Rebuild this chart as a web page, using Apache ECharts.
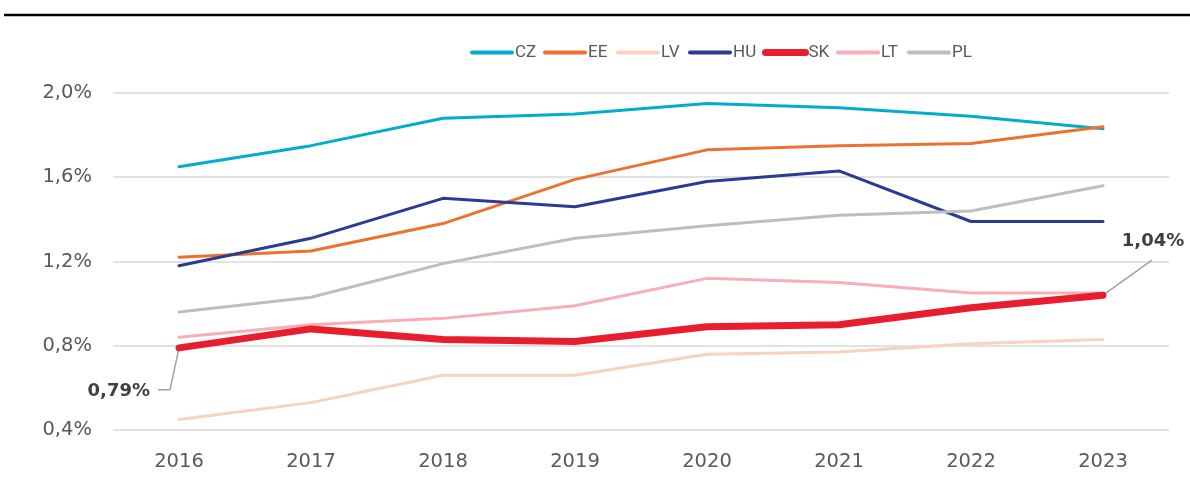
<!DOCTYPE html>
<html><head><meta charset="utf-8">
<script src="https://cdn.jsdelivr.net/npm/echarts@6/dist/echarts.min.js"></script>
<style>html,body{margin:0;padding:0;background:#fff}#c{width:1190px;height:482px}</style>
</head><body><div id="c"></div>
<script>
const years = ['2016','2017','2018','2019','2020','2021','2022','2023'];
const CZ = [1.65,1.75,1.88,1.90,1.95,1.93,1.89,1.83];
const EE = [1.22,1.25,1.38,1.59,1.73,1.75,1.76,1.84];
const LV = [0.45,0.53,0.66,0.66,0.76,0.77,0.81,0.83];
const HU = [1.18,1.31,1.50,1.46,1.58,1.63,1.39,1.39];
const SK = [0.79,0.88,0.83,0.82,0.89,0.90,0.98,1.04];
const LT = [0.84,0.90,0.93,0.99,1.12,1.10,1.05,1.05];
const PL = [0.96,1.03,1.19,1.31,1.37,1.42,1.44,1.56];
const names = ['CZ','EE','LV','HU','SK','LT','PL'];
const noteFirst = '0,79%';
const noteLast = '1,04%';

const font = '"DejaVu Sans", sans-serif';
const legFont = 'Roboto, "Liberation Sans", sans-serif';
const colors = {CZ:'#00AECB',EE:'#EC7232',LV:'#F8D2BE',HU:'#2B3A92',SK:'#E81E2E',LT:'#F7AEB6',PL:'#BEBEBE'};
const widths = {CZ:3,EE:3,LV:3,HU:3,SK:7,LT:3,PL:3};
const seriesData = {CZ,EE,LV,HU,SK,LT,PL};
const legLeft = [470,543,616,688,762,836,907];

const series = names.map(n=>({name:n, type:'line', data:seriesData[n], symbol:'none', z:n==='SK'?5:2,
  lineStyle:{color:colors[n], width:widths[n], cap:'round', join:'round'}, itemStyle:{color:colors[n]}}));
const legends = names.map((n,i)=>({left:legLeft[i], top:44, itemWidth:40, itemHeight:18, itemGap:0,
  padding:0, data:[n], itemStyle:{opacity:0},
  lineStyle:{width:n==='SK'?7:4, cap:'round'},
  textStyle:{fontSize:17, color:'#595959', fontFamily:legFont, padding:[0,0,0,-2]}}));

const chart = echarts.init(document.getElementById('c'), null, {renderer:'canvas'});
chart.setOption({
  animation:false,
  textStyle:{fontFamily:font},
  grid:{left:113, right:21, top:93, bottom:52, containLabel:false},
  legend:legends,
  xAxis:{type:'category', data:years, boundaryGap:true,
    axisLine:{show:false}, axisTick:{show:false},
    axisLabel:{fontSize:19.5, color:'#595959', margin:22, fontFamily:font}},
  yAxis:{type:'value', min:0.4, max:2.0, interval:0.4,
    axisLine:{show:false}, axisTick:{show:false},
    splitLine:{lineStyle:{color:'#D9D9D9', width:1.5}},
    axisLabel:{fontSize:19.5, color:'#595959', margin:21, fontFamily:font,
      formatter:v=>v.toFixed(1).replace('.',',')+'%'}},
  series
});
function drawNotes(){
  const p0 = chart.convertToPixel({xAxisIndex:0,yAxisIndex:0},[0,SK[0]]);
  const n = SK.length-1;
  const p1 = chart.convertToPixel({xAxisIndex:0,yAxisIndex:0},[n,SK[n]]);
  const lc = '#A0A0A0';
  chart.setOption({graphic:[
    {type:'line', shape:{x1:4,y1:15,x2:1190,y2:15}, style:{stroke:'#000',lineWidth:2.5}},
    {type:'polyline', shape:{points:[[p0[0]-21,p0[1]+42],[p0[0]-9,p0[1]+42],[p0[0],p0[1]]]}, style:{stroke:lc,fill:null,lineWidth:1.5}, z:1},
    {type:'text', x:p0[0]-29, y:p0[1]+43, style:{text:noteFirst, font:'bold 18px "DejaVu Sans", sans-serif', fill:'#404040', align:'right', verticalAlign:'middle'}},
    {type:'line', shape:{x1:p1[0],y1:p1[1],x2:p1[0]+49,y2:p1[1]-35}, style:{stroke:lc,lineWidth:1.5}, z:1},
    {type:'text', x:p1[0]+50, y:p1[1]-54, style:{text:noteLast, font:'bold 18px "DejaVu Sans", sans-serif', fill:'#404040', align:'center', verticalAlign:'middle'}}
  ]});
}
drawNotes();
</script></body></html>
